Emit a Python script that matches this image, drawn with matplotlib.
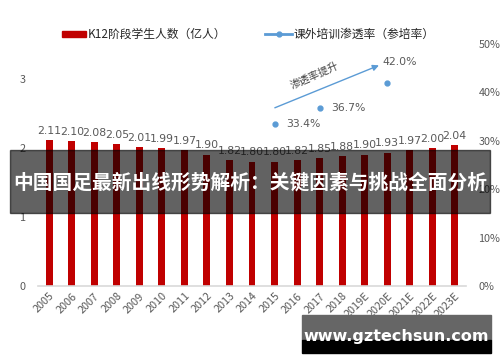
import matplotlib
matplotlib.use("Agg")
import matplotlib.pyplot as plt
from matplotlib.patches import Rectangle
from matplotlib.lines import Line2D

plt.rcParams['font.family'] = ['Noto Sans CJK SC', 'DejaVu Sans']

years = ['2005', '2006', '2007', '2008', '2009', '2010', '2011', '2012', '2013', '2014',
         '2015', '2016', '2017', '2018', '2019E', '2020E', '2021E', '2022E', '2023E']
students = [2.11, 2.10, 2.08, 2.05, 2.01, 1.99, 1.97, 1.90, 1.82, 1.80,
            1.80, 1.82, 1.85, 1.88, 1.90, 1.93, 1.97, 2.00, 2.04]
rate_years = ['2015', '2017', '2020E']
rates = [33.4, 36.7, 42.0]
bar_label = 'K12阶段学生人数（亿人）'
line_label = '课外培训渗透率（参培率）'
arrow_text = '渗透率提升'
title = '中国国足最新出线形势解析：关键因素与挑战全面分析'
watermark = 'www.gztechsun.com'

red = '#c00000'
blue = '#5b9bd5'
gray = '#595959'

fig = plt.figure(figsize=(5.0, 3.62), dpi=100)
ax = fig.add_axes([0.076, 0.21, 0.856, 0.6685])
x = list(range(len(years)))
ax.bar(x, students, width=0.31, color=red, zorder=2)
for xi, v in zip(x, students):
    ax.text(xi, v + 0.06, f'{v:.2f}', ha='center', va='bottom', fontsize=7.8,
            color=gray, family='DejaVu Sans')
ax.set_xlim(-0.5, len(years) - 0.5)
ax.set_ylim(0, 3.5)
ax.set_yticks([0, 1, 2, 3])
ax.set_xticks(x)
ax.set_xticklabels(years, rotation=45, ha='right', rotation_mode='anchor',
                   fontsize=7.8, color=gray)
ax.tick_params(axis='both', length=0, colors=gray, labelsize=7.8)
ax.tick_params(axis='y', pad=9)
for s in ['top', 'left', 'right']:
    ax.spines[s].set_visible(False)
ax.spines['bottom'].set_color('#d9d9d9')
ax.spines['bottom'].set_linewidth(1.2)

ax2 = ax.twinx()
ax2.set_ylim(0, 50)
ax2.set_yticks([0, 10, 20, 30, 40, 50])
ax2.set_yticklabels([f'{t}%' for t in [0, 10, 20, 30, 40, 50]])
ax2.tick_params(axis='y', length=0, colors=gray, labelsize=7.8, pad=9)
for s in ['top', 'left', 'right', 'bottom']:
    ax2.spines[s].set_visible(False)
rx = [years.index(y) for y in rate_years]
ax2.plot(rx, rates, linestyle='none', marker='o', markersize=3.5, color=blue, zorder=3)
for xi, r in zip(rx[:2], rates[:2]):
    ax2.text(xi + 0.5, r, f'{r:.1f}%', ha='left', va='center', fontsize=7.8,
             color=gray, family='DejaVu Sans')
ax2.text(rx[2] + 0.55, rates[2] + 4.3, f'{rates[2]:.1f}%', ha='center', va='center',
         fontsize=7.8, color=gray, family='DejaVu Sans')
ax2.annotate('', xy=(14.75, 45.8), xytext=(9.9, 36.6),
             arrowprops=dict(arrowstyle='-|>', color=blue, lw=1.0, mutation_scale=9))
ax2.text(11.8, 43.4, arrow_text, rotation=24, ha='center', va='center',
         fontsize=7.5, color='#404040')

# legend
fig.patches.append(Rectangle((62 / 500, 1 - 37 / 362), 24 / 500, 6 / 362,
                             transform=fig.transFigure, color=red))
fig.text(88 / 500, 1 - 34 / 362, bar_label, ha='left', va='center', fontsize=8.5, color='#262626')
fig.lines.append(Line2D([265 / 500, 292 / 500], [1 - 34 / 362, 1 - 34 / 362],
                        transform=fig.transFigure, color=blue, lw=2))
fig.lines.append(Line2D([278.5 / 500], [1 - 34 / 362], transform=fig.transFigure,
                        color=blue, marker='o', markersize=3.5))
fig.text(294 / 500, 1 - 34 / 362, line_label, ha='left', va='center', fontsize=8.5, color='#262626')

# banner
fig.patches.append(Rectangle((10 / 500, 1 - 213 / 362), 480 / 500, 63 / 362,
                             transform=fig.transFigure, color='black', alpha=0.615, zorder=10))
fig.text(0.5, 1 - 183 / 362, title, ha='center', va='center', fontsize=14.2,
         fontweight='bold', color='white', zorder=11)

# watermark
fig.patches.append(Rectangle((302 / 500, 1 - 340 / 362), 189 / 500, 25 / 362,
                             transform=fig.transFigure, color='#666666', zorder=10))
fig.patches.append(Rectangle((302 / 500, 1 - 353 / 362), 189 / 500, 13 / 362,
                             transform=fig.transFigure, color='black', zorder=10))
fig.text(396 / 500, 1 - 336 / 362, watermark, ha='center', va='center', fontsize=11.5,
         fontweight='bold', color='white', family='DejaVu Sans', zorder=11)

fig.savefig('out.png', dpi=100)
